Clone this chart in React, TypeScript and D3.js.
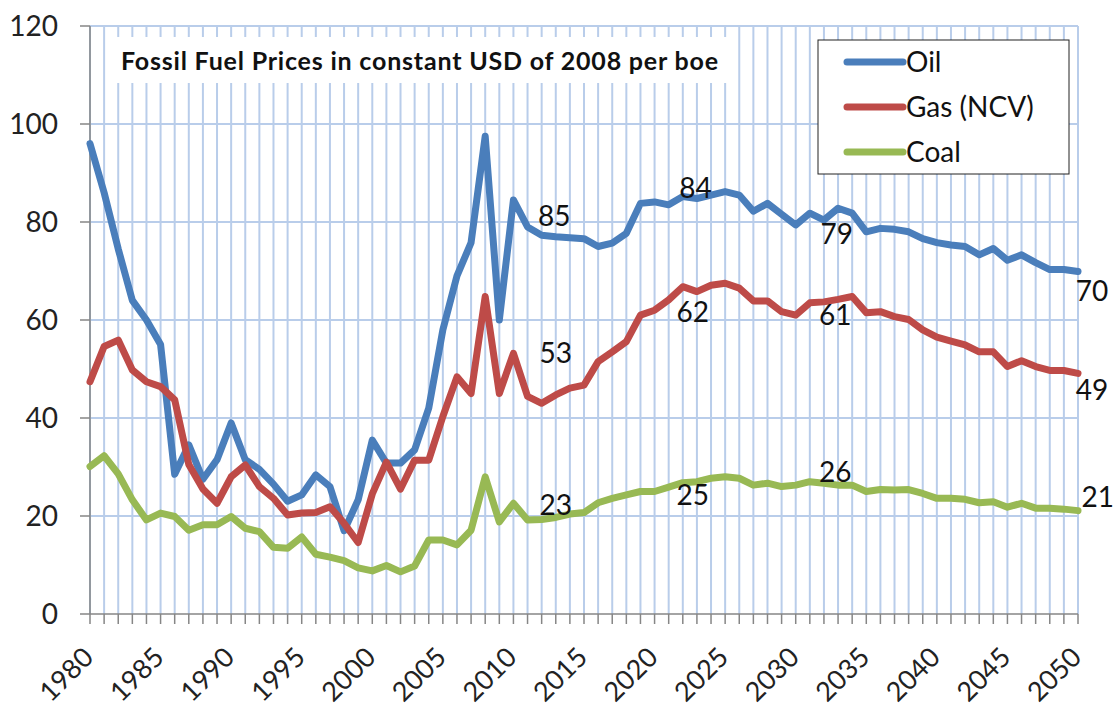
import React from "react";
import * as d3 from "d3";

const years: number[] = d3.range(1980, 2051);

const oil: number[] = [
  96, 86, 74.5, 64, 60, 55, 28.5, 34.5, 27.5, 31.5,
  39, 31.5, 29.5, 26.5, 23, 24.3, 28.4, 26, 17, 23.3,
  35.5, 30.8, 30.8, 33.5, 42, 58, 69, 75.8, 97.5, 60,
  84.5, 79, 77.3, 77, 76.8, 76.6, 75, 75.7, 77.7, 83.8,
  84.1, 83.5, 85.2, 84.8, 85.5, 86.2, 85.5, 82.2, 83.8, 81.6,
  79.4, 81.8, 80.4, 82.8, 81.8, 78, 78.7, 78.5, 78, 76.6,
  75.8, 75.3, 75, 73.3, 74.6, 72.2, 73.3, 71.7, 70.3, 70.3,
  69.9,
];

const gas: number[] = [
  47.4, 54.6, 55.9, 49.8, 47.4, 46.4, 43.7, 30.5, 25.5, 22.6,
  28, 30.4, 26, 23.6, 20.2, 20.6, 20.7, 21.9, 18.5, 14.6,
  24.5, 31, 25.5, 31.4, 31.4, 40.3, 48.4, 45, 64.8, 45,
  53.2, 44.4, 43, 44.7, 46.1, 46.7, 51.5, 53.5, 55.6, 61,
  62, 64.1, 66.8, 65.8, 67.1, 67.5, 66.5, 63.9, 63.9, 61.7,
  61, 63.5, 63.7, 64.2, 64.8, 61.5, 61.7, 60.7, 60.1, 58,
  56.5, 55.7, 54.9, 53.5, 53.5, 50.5, 51.7, 50.5, 49.7, 49.7,
  49.1,
];

const coal: number[] = [
  30.1, 32.3, 28.6, 23.3, 19.2, 20.6, 19.9, 17.1, 18.2, 18.2,
  19.9, 17.5, 16.8, 13.6, 13.4, 15.7, 12.2, 11.6, 10.9, 9.4,
  8.8, 9.9, 8.6, 9.8, 15.1, 15.1, 14.1, 17.1, 28, 18.8,
  22.6, 19.2, 19.3, 19.7, 20.4, 20.7, 22.7, 23.6, 24.3, 25,
  25, 25.9, 26.8, 27, 27.7, 28, 27.7, 26.3, 26.7, 26,
  26.3, 27, 26.7, 26.3, 26.3, 25, 25.4, 25.3, 25.4, 24.6,
  23.6, 23.6, 23.4, 22.7, 22.9, 21.8, 22.6, 21.6, 21.6, 21.4,
  21.1,
];

const seriesNames: string[] = ["Oil", "Gas (NCV)", "Coal"];
const seriesColors: string[] = ["#4a7ebb", "#be4b48", "#98b954"];
const yTicks: number[] = [0, 20, 40, 60, 80, 100, 120];
const xLabelYears: number[] = d3.range(1980, 2051, 5);

const labelTexts: string[] = ["85", "84", "79", "70", "53", "62", "61", "49", "23", "25", "26", "21"];
const labelYears: number[] = [2012.9, 2022.9, 2032.9, 2051, 2013, 2022.7, 2032.8, 2051, 2013, 2022.7, 2032.8, 2051.4];
const labelValues: number[] = [81.2, 87, 77.6, 65.9, 53.3, 61.6, 61, 45.7, 22.2, 24.3, 29, 23.9];

const title = "Fossil Fuel Prices in constant USD of 2008 per boe";

export default function App() {
  const W = 1115, H = 711;
  const x0 = 90, x1 = 1078, yTop = 26, yBot = 614;
  const x = d3.scaleLinear().domain([1980, 2050]).range([x0, x1]);
  const y = d3.scaleLinear().domain([0, 120]).range([yBot, yTop]);
  const font = "Lato, 'Open Sans', sans-serif";
  const grid = "#b9cdea";
  const axis = "#868686";
  const fs = 28;
  const data = [oil, gas, coal];
  const line = d3.line<number>().x((_, i) => x(years[i])).y((d) => y(d));

  return (
    <svg width={W} height={H} style={{ position: "absolute", left: 0, top: 0, background: "#fff" }} fontFamily={font}>
      <rect x={0} y={0} width={W} height={H} fill="#fff" />
      {years.map((yr) => (
        <line key={"vg" + yr} x1={x(yr)} x2={x(yr)} y1={yTop} y2={yBot} stroke={grid} strokeWidth={2} />
      ))}
      {yTicks.filter((t) => t > 0).map((t) => (
        <line key={"hg" + t} x1={x0} x2={x1} y1={y(t)} y2={y(t)} stroke={grid} strokeWidth={2} />
      ))}
      <rect x={110} y={37} width={619} height={46} fill="#fff" />
      <text x={121} y={70} fontSize={25} fontWeight={700} fill="#111" textLength={597} lengthAdjust="spacing">{title}</text>
      <line x1={x0} x2={x0} y1={yTop} y2={yBot} stroke={axis} strokeWidth={1.5} />
      <line x1={x0} x2={x1} y1={yBot} y2={yBot} stroke={axis} strokeWidth={1.5} />
      {yTicks.map((t) => (
        <g key={"yt" + t}>
          <line x1={x0 - 10} x2={x0} y1={y(t)} y2={y(t)} stroke={axis} strokeWidth={1.5} />
          <text x={58} y={y(t)} dy="0.36em" textAnchor="end" fontSize={fs} fill="#222">{t}</text>
        </g>
      ))}
      {years.map((yr) => (
        <line key={"xt" + yr} x1={x(yr)} x2={x(yr)} y1={yBot} y2={yBot + 10} stroke={axis} strokeWidth={1.5} />
      ))}
      {xLabelYears.map((yr) => (
        <text key={"xl" + yr} transform={`translate(${x(yr) + 5},${659}) rotate(-45)`} textAnchor="end" fontSize={27} fill="#222">{yr}</text>
      ))}
      {data.map((d, i) => (
        <path key={"s" + i} d={line(d) || ""} fill="none" stroke={seriesColors[i]} strokeWidth={7} strokeLinejoin="round" strokeLinecap="round" />
      ))}
      {labelTexts.map((t, i) => (
        <text key={"lb" + i} x={x(labelYears[i])} y={y(labelValues[i])} dy="0.36em" textAnchor="middle" fontSize={fs} fill="#111">{t}</text>
      ))}
      <rect x={818} y={40} width={251} height={134} fill="#fff" stroke="#222" strokeWidth={1} />
      {seriesNames.map((n, i) => (
        <g key={"lg" + i}>
          <line x1={847} x2={903} y1={62 + i * 45} y2={62 + i * 45} stroke={seriesColors[i]} strokeWidth={7} strokeLinecap="round" />
          <text x={906} y={62 + i * 45} dy="0.36em" fontSize={fs} fill="#111">{n}</text>
        </g>
      ))}
    </svg>
  );
}
